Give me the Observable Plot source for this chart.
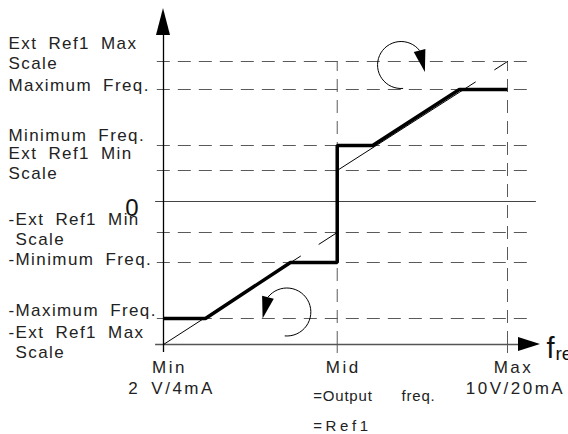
<!DOCTYPE html>
<html><head><meta charset="utf-8">
<script src="https://cdn.jsdelivr.net/npm/d3@7"></script>
<script src="https://cdn.jsdelivr.net/npm/@observablehq/plot@0.6"></script>
<style>
body{margin:0;background:#fff;}
svg text{white-space:pre;}
g[aria-description="ylabels"] text{letter-spacing:1.4px;word-spacing:5px;}
g[aria-description="xticks"] text{letter-spacing:2.5px;}
g[aria-description="xsub"] text{letter-spacing:2.5px;word-spacing:4px;}
g[aria-description="legend1"] text{letter-spacing:0.8px;word-spacing:24px;}
g[aria-description="legend2"] text{letter-spacing:3.6px;}
</style></head><body><div id="chart"></div>
<script>
// ---- data ----
const levelLabels = ["Ext Ref1 Max\nScale", "Maximum Freq.", "Minimum Freq.", "Ext Ref1 Min\nScale",
  "-Ext Ref1 Min\n\u2004Scale", "-Minimum Freq.", "-Maximum Freq.", "-Ext Ref1 Max\n\u2004Scale"];
const levelValues = [140, 112, 56, 31, -31, -61, -117, -143];
const zeroLabel = "0";
const zeroValue = 0;
const xTickLabels = ["Min", "Mid", "Max"];
const xTickValues = [0, 50.5, 100];
const xSubLabels = ["2 V/4mA", "", "10V/20mA"];
const legendLines = ["=Output freq.", "=Ref1"];
const axisName = "f";
const axisSub = "ref";
// output frequency (thick line)
const outputX = [0, 12.2, 36.9, 50.5, 50.5, 60.8, 86, 100];
const outputY = [-117, -117, -61, -61, 56, 56, 112, 112];
// Ref1 (thin diagonal) segments
const refLowX = [0, 50.5], refLowY = [-143, -31];
const refHighX = [50.5, 100], refHighY = [31, 140];
// rotation arrows (centres)
const rotX = [69.2, 36.0], rotY = [136, -111], rotDir = [1, -1];

// ---- drawing ----
const yMin = -143, yMax = 140;
const gray = "#5a5a5a";
const dash = "13,8";

function decorations(index, scales) {
  const X = scales.x, Y = scales.y;
  const g = d3.create("svg:g");
  const x0 = X(0), yb = Y(yMin);
  const yTip = Y(193);
  g.append("path").attr("d", `M${x0},${yTip}L${x0 - 7},${yTip + 27}L${x0 + 7},${yTip + 27}Z`).attr("fill", "black");
  const xTip = X(109.6);
  g.append("path").attr("d", `M${xTip},${yb}L${xTip - 22},${yb - 7}L${xTip - 22},${yb + 7}Z`).attr("fill", "black");
  rotX.forEach((cxv, i) => {
    const cx = X(cxv), cy = Y(rotY[i]), dir = rotDir[i];
    const r = dir > 0 ? 23.5 : 24;
    const a0 = (dir > 0 ? 85 : 95) * Math.PI / 180;
    const a1 = (dir > 0 ? 322 : 218) * Math.PI / 180;
    const p = d3.path();
    p.arc(cx, cy, r, a0, a1, dir < 0);
    g.append("path").attr("d", p.toString()).attr("fill", "none").attr("stroke", "black").attr("stroke-width", 1);
    const bx = cx + r * Math.cos(a1), by = cy + r * Math.sin(a1);
    const da = (dir > 0 ? 76 : 104) * Math.PI / 180;
    const ux = Math.cos(da), uy = Math.sin(da);
    const L = 22, w = 6;
    g.append("path").attr("d",
      `M${bx + ux * L},${by + uy * L}L${bx - uy * w},${by + ux * w}L${bx + uy * w},${by - ux * w}Z`)
      .attr("fill", "black");
  });
  return g.node();
}

const gridLevels = levelValues.filter(v => v !== yMin);

const marks = [
  Plot.ruleY(gridLevels, {x1: -1.8, x2: 106.1, stroke: gray, strokeWidth: 1, strokeDasharray: dash}),
  Plot.ruleX(xTickValues.slice(1), {y1: yMin, y2: yMax, stroke: gray, strokeWidth: 1, strokeDasharray: dash}),
  Plot.ruleX(xTickValues.slice(1), {y1: yMin, y2: -152, stroke: gray, strokeWidth: 1}),
  Plot.ruleY([zeroValue], {x1: -2.3, x2: 108.4, stroke: "#444", strokeWidth: 1}),
  Plot.ruleY([yMin], {x1: -2.3, x2: 103.5, stroke: "#555", strokeWidth: 1.6}),
  Plot.ruleX([0], {y1: -151, y2: 168, stroke: "black", strokeWidth: 1.3}),
  Plot.line(refLowX.map((x, i) => [x, refLowY[i]]), {stroke: "black", strokeWidth: 1, strokeDasharray: "163,22"}),
  Plot.line(refHighX.map((x, i) => [x, refHighY[i]]), {stroke: "black", strokeWidth: 1, strokeDasharray: "164,23"}),
  Plot.line(outputX.map((x, i) => [x, outputY[i]]), {stroke: "black", strokeWidth: 3.5, strokeLinejoin: "miter", strokeLinecap: "butt"}),
  decorations,
];

const labelDy = [7, 1, -5, 8, 12, 2, -3, 13];
levelLabels.forEach((t, i) => {
  marks.push(Plot.text([t], {y: [levelValues[i]], frameAnchor: "left", dx: -155, dy: labelDy[i],
    textAnchor: "start", lineAnchor: "bottom", lineHeight: 1.12, fontSize: 17, fill: "#222", ariaDescription: "ylabels"}));
});
marks.push(Plot.text([zeroLabel], {y: [zeroValue], frameAnchor: "left", dx: -25, dy: 14,
  textAnchor: "end", lineAnchor: "bottom", fontSize: 24, fill: "#111"}));
marks.push(Plot.text(xTickLabels, {x: xTickValues, frameAnchor: "bottom", dx: 6, dy: 28,
  textAnchor: "middle", lineAnchor: "bottom", fontSize: 17, fill: "#222", ariaDescription: "xticks"}));
marks.push(Plot.text(xSubLabels, {x: xTickValues, frameAnchor: "bottom", dx: 8, dy: 49,
  textAnchor: "middle", lineAnchor: "bottom", fontSize: 17, fill: "#222", ariaDescription: "xsub"}));
marks.push(Plot.text([legendLines[0]], {x: [xTickValues[1]], frameAnchor: "bottom", dx: -24, dy: 56,
  textAnchor: "start", lineAnchor: "bottom", fontSize: 15, fill: "#222", ariaDescription: "legend1"}));
marks.push(Plot.text([legendLines[1]], {x: [xTickValues[1]], frameAnchor: "bottom", dx: -24, dy: 86,
  textAnchor: "start", lineAnchor: "bottom", fontSize: 15, fill: "#222", ariaDescription: "legend2"}));
marks.push(Plot.text([axisName], {x: [xTickValues[2]], frameAnchor: "bottom", dx: 39, dy: 13,
  textAnchor: "start", lineAnchor: "bottom", fontSize: 29, fill: "#111"}));
marks.push(Plot.text([axisSub], {x: [xTickValues[2]], frameAnchor: "bottom", dx: 48, dy: 15,
  textAnchor: "start", lineAnchor: "bottom", fontSize: 19, fill: "#111"}));

const chart = Plot.plot({
  width: 568, height: 434,
  marginLeft: 163, marginRight: 61, marginTop: 61, marginBottom: 90,
  x: {domain: [0, 100], axis: null},
  y: {domain: [yMin, yMax], axis: null},
  style: {fontFamily: "'Liberation Sans', Arial, sans-serif", background: "white", overflow: "visible"},
  marks
});
document.getElementById("chart").appendChild(chart);
</script></body></html>
